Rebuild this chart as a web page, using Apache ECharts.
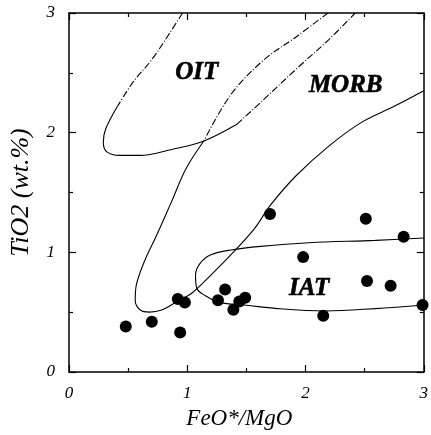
<!DOCTYPE html>
<html>
<head>
<meta charset="utf-8">
<script src="https://cdn.jsdelivr.net/npm/echarts@6/dist/echarts.min.js"></script>
<style>
html,body{margin:0;padding:0;background:#fff;}
#chart{width:431px;height:435px;}
</style>
</head>
<body>
<div id="chart"></div>
<script>
// Sample points: FeO*/MgO vs TiO2 (wt.%)
var samplesX = [0.48, 0.70, 0.94, 0.92, 0.98, 1.26, 1.32, 1.39, 1.44, 1.49, 1.70, 1.98, 2.15, 2.51, 2.52, 2.72, 2.83, 2.99];
var samplesY = [0.38, 0.42, 0.33, 0.61, 0.58, 0.60, 0.69, 0.52, 0.59, 0.62, 1.32, 0.96, 0.47, 1.28, 0.76, 0.72, 1.13, 0.56];

// Field boundaries (data units)
var oitDashA = [[0.96,3.0],[0.85,2.83],[0.70,2.61],[0.54,2.42],[0.41,2.22]];
var oitSolid = [[0.41,2.22],[0.31,2.03],[0.29,1.92],[0.32,1.84],[0.43,1.81],[0.60,1.81],[0.87,1.86],[1.14,1.93],[1.42,2.07]];
var oitDashB = [[1.42,2.07],[1.65,2.28],[1.92,2.53],[2.20,2.78],[2.42,3.0]];

var morbDash = [[2.19,3.0],[1.92,2.80],[1.65,2.61],[1.37,2.32],[1.14,1.93]];
var morbSolid = [[1.14,1.93],[0.99,1.70],[0.87,1.43],[0.74,1.14],[0.64,0.93],[0.57,0.73],[0.56,0.60],[0.60,0.52],[0.68,0.50],[0.79,0.52],[0.90,0.58],[1.04,0.66],[1.20,0.81],[1.37,0.98],[1.57,1.20],[1.70,1.39],[1.92,1.64],[2.20,1.89],[2.48,2.09],[2.75,2.22],[3.0,2.35]];

var iatLine = [[3.0,1.12],[2.59,1.10],[2.03,1.08],[1.62,1.05],[1.37,1.02],[1.20,0.98],[1.11,0.91],[1.07,0.81],[1.08,0.70],[1.15,0.64],[1.28,0.58],[1.48,0.56],[1.76,0.53],[2.17,0.51],[2.59,0.53],[3.0,0.56]];

var fieldNames = ['OIT', 'MORB', 'IAT'];
var fieldX = [1.08, 2.34, 2.03];
var fieldY = [2.50, 2.39, 0.70];

var xTicks = [0, 1, 2, 3];
var yTicks = [0, 1, 2, 3];

var serif = 'Liberation Serif';
var black = '#000';
var dashDot = [7, 2, 1, 2];

function axisBase(pos, showLabel) {
  return {
    type: 'value', min: 0, max: 3, interval: 1, position: pos,
    axisLine: {show: true, onZero: false, lineStyle: {color: black, width: 1.5}},
    axisTick: {show: true, inside: true, length: 7, lineStyle: {color: black, width: 1.2}},
    minorTick: {show: true, splitNumber: 2, length: 4, lineStyle: {color: black, width: 1.2}},
    splitLine: {show: false},
    minorSplitLine: {show: false},
    axisLabel: {show: showLabel, color: black, fontFamily: serif, fontStyle: 'italic', fontSize: 17, margin: 13,
      formatter: function (v) { return String(v); }}
  };
}

var xBottom = axisBase('bottom', true);
xBottom.name = 'FeO*/MgO';
xBottom.nameLocation = 'middle';
xBottom.nameGap = 35;
xBottom.nameTextStyle = {color: black, fontFamily: serif, fontStyle: 'italic', fontSize: 23, padding: [0, 14, 0, 0]};
var xTop = axisBase('top', false);

var yLeft = axisBase('left', true);
yLeft.axisLabel.margin = 14;
yLeft.name = 'TiO2 (wt.%)';
yLeft.nameLocation = 'middle';
yLeft.nameGap = 35;
yLeft.nameTextStyle = {color: black, fontFamily: serif, fontStyle: 'italic', fontSize: 26};
var yRight = axisBase('right', false);

function curve(data, dashed) {
  return {
    type: 'line', data: data, xAxisIndex: 0, yAxisIndex: 0,
    smooth: 0.35, showSymbol: false, symbol: 'none', silent: true, clip: true,
    lineStyle: {color: black, width: 1.1, type: dashed ? dashDot : 'solid'},
    z: 2
  };
}

var scatterData = samplesX.map(function (x, i) { return [x, samplesY[i]]; });
var labelData = fieldNames.map(function (n, i) { return {name: n, value: [fieldX[i], fieldY[i]]}; });

var option = {
  backgroundColor: '#fff',
  animation: false,
  grid: {left: 68, right: 1, top: 13, bottom: 60, containLabel: false},
  xAxis: [xBottom, xTop],
  yAxis: [yLeft, yRight],
  series: [
    curve(oitDashA, true),
    curve(oitSolid, false),
    curve(oitDashB, true),
    curve(morbDash, true),
    curve(morbSolid, false),
    curve(iatLine, false),
    {
      type: 'scatter', data: scatterData, symbol: 'circle', symbolSize: 12,
      itemStyle: {color: black, opacity: 1}, z: 3
    },
    {
      type: 'scatter', data: labelData, symbol: 'circle', symbolSize: 1, silent: true,
      itemStyle: {color: 'rgba(0,0,0,0)', opacity: 1},
      label: {show: true, position: 'inside', formatter: '{b}', color: '#000', opacity: 1,
        fontFamily: serif, fontStyle: 'italic', fontWeight: 'bold', fontSize: 25,
        textBorderColor: '#000', textBorderWidth: 0.6},
      z: 4
    }
  ]
};

var chart = echarts.init(document.getElementById('chart'), null, {renderer: 'canvas'});
chart.setOption(option);
</script>
</body>
</html>
